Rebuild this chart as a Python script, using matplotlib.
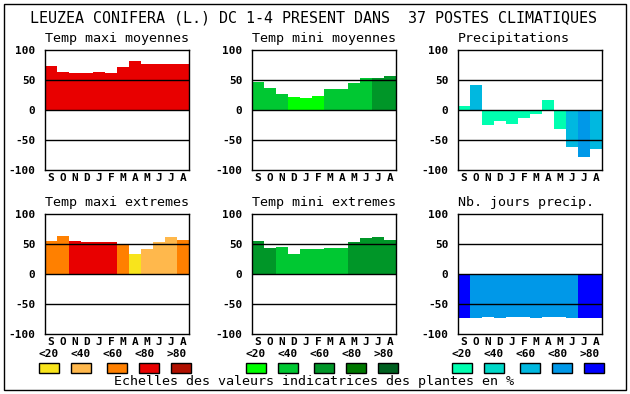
# Six monthly panels of indicator values for one plant species,
# drawn on a pixel canvas of 630x394 like the original screen dump.

import matplotlib
matplotlib.use("Agg")
import matplotlib.pyplot as plt
from matplotlib.patches import Rectangle

W, H = 630, 394
FONT = "DejaVu Sans Mono"

months = ["S", "O", "N", "D", "J", "F", "M", "A", "M", "J", "J", "A"]
class_labels = ["<20", "<40", "<60", "<80", ">80"]

# colour scales (one per family of panels)
warm_scale = ["#f8e41c", "#ffb84c", "#ff8000", "#e80000", "#b01000"]
green_scale = ["#00ff00", "#00c832", "#009628", "#007800", "#006020"]
water_scale = ["#00ffb0", "#00d8c8", "#00b8e0", "#0098e8", "#0000ff"]

# values (%) and colour class index for each month
tmax_moy = [74, 64, 61, 62, 64, 62, 72, 81, 77, 77, 77, 76]
tmax_moy_cls = [3, 3, 3, 3, 3, 3, 3, 3, 3, 3, 3, 3]

tmin_moy = [47, 37, 27, 22, 20, 23, 35, 35, 45, 54, 54, 56]
tmin_moy_cls = [1, 1, 1, 0, 0, 0, 1, 1, 1, 1, 2, 2]

precip = [7, 42, -25, -18, -23, -13, -6, 17, -31, -62, -79, -65]
precip_cls = [0, 2, 0, 0, 0, 0, 0, 0, 0, 2, 3, 2]

tmax_ext = [55, 63, 55, 53, 53, 53, 48, 33, 42, 53, 62, 57]
tmax_ext_cls = [2, 2, 3, 3, 3, 3, 2, 0, 1, 1, 1, 2]

tmin_ext = [55, 43, 45, 33, 42, 42, 43, 43, 53, 60, 62, 57]
tmin_ext_cls = [2, 2, 1, 1, 1, 1, 1, 1, 2, 2, 2, 2]

nb_jours = [-74, -73, -72, -74, -72, -72, -73, -72, -72, -73, -74, -74]
nb_jours_cls = [4, 3, 3, 3, 3, 3, 3, 3, 3, 3, 4, 4]

panels = [
    ("Temp maxi moyennes", tmax_moy, tmax_moy_cls, warm_scale, 45, 50),
    ("Temp mini moyennes", tmin_moy, tmin_moy_cls, green_scale, 252, 50),
    ("Precipitations", precip, precip_cls, water_scale, 458, 50),
    ("Temp maxi extremes", tmax_ext, tmax_ext_cls, warm_scale, 45, 214),
    ("Temp mini extremes", tmin_ext, tmin_ext_cls, green_scale, 252, 214),
    ("Nb. jours precip.", nb_jours, nb_jours_cls, water_scale, 458, 214),
]

fig = plt.figure(figsize=(W / 100, H / 100), dpi=100)

# background canvas in pixel units for frame, titles and legend
bg = fig.add_axes([0, 0, 1, 1])
bg.set_xlim(0, W)
bg.set_ylim(H, 0)
bg.axis("off")
bg.add_patch(Rectangle((4, 4), 622, 386, fill=False, edgecolor="black", lw=1))
bg.text(313.5, 18, "LEUZEA CONIFERA (L.) DC 1-4 PRESENT DANS  37 POSTES CLIMATIQUES",
        ha="center", va="center", family=FONT, fontsize=10.8)
bg.text(314.5, 382, "Echelles des valeurs indicatrices des plantes en %",
        ha="center", va="center", family=FONT, fontsize=9.6)

pw, ph = 144, 120
for title, vals, cls, scale, px, py in panels:
    ax = fig.add_axes([px / W, (H - py - ph) / H, pw / W, ph / H])
    ax.bar(range(12), vals, width=1.0, color=[scale[c] for c in cls],
           linewidth=0, zorder=2)
    for yv in (50, 0, -50):
        ax.axhline(yv, color="black", lw=1.0, zorder=3)
    ax.set_xlim(-0.5, 11.5)
    ax.set_ylim(-100, 100)
    ax.set_xticks(range(12))
    ax.set_xticklabels(months, family=FONT, fontweight="bold", fontsize=8)
    ax.set_yticks([-100, -50, 0, 50, 100])
    ax.set_yticklabels(["-100", "-50", "0", "50", "100"],
                       family=FONT, fontweight="bold", fontsize=8)
    ax.tick_params(length=0)
    ax.tick_params(axis="x", pad=2)
    ax.tick_params(axis="y", pad=7)
    for s in ax.spines.values():
        s.set_linewidth(1.0)
    bg.text(px, py - 12, title, ha="left", va="center",
            family=FONT, fontsize=9.6)

# colour scale legends under the bottom row
for px, scale in [(45, warm_scale), (252, green_scale), (458, water_scale)]:
    for i, (lab, col) in enumerate(zip(class_labels, scale)):
        bg.text(px + 4 + 32 * i, 354, lab, ha="center", va="center",
                family=FONT, fontweight="bold", fontsize=8)
        cx = px + 4 + 32 * i + (4 if i >= 2 else 0)
        bg.add_patch(Rectangle((cx - 10, 363), 20, 10, facecolor=col,
                               edgecolor="black", lw=1))

fig.savefig("out.png", dpi=100)
